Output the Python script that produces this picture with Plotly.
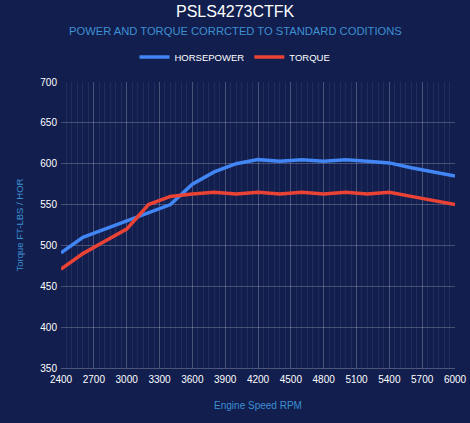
import plotly.graph_objects as go

rpm = [2400, 2600, 2800, 3000, 3200, 3400, 3600, 3800, 4000, 4200,
       4400, 4600, 4800, 5000, 5200, 5400, 5600, 5800, 6000]
horsepower = [491, 510, 520, 530, 540, 550, 575, 590, 600, 605,
              603, 605, 603, 605, 603, 601, 595, 590, 585]
torque = [471, 490, 505, 520, 550, 560, 563, 565, 563, 565,
          563, 565, 563, 565, 563, 565, 560, 555, 550]

x_ticks = list(range(2400, 6001, 300))
y_ticks = list(range(350, 701, 50))

title = "PSLS4273CTFK"
subtitle = "POWER AND TORQUE CORRCTED TO STANDARD CODITIONS"

bg = "#111e4e"
accent = "#3f8fd2"
font_main = "Liberation Sans, Arial, sans-serif"

W, H = 470, 423
L, R, T, B = 61, 15, 82, 55
# centre of the whole figure, in plot-area (paper) units
mid = (W / 2 - L) / (W - L - R)

fig = go.Figure()
fig.add_trace(go.Scatter(x=rpm, y=horsepower, mode="lines", name="HORSEPOWER",
                         line=dict(color="#4285f4", width=3.5)))
fig.add_trace(go.Scatter(x=rpm, y=torque, mode="lines", name="TORQUE",
                         line=dict(color="#ea4335", width=3.5)))

fig.update_layout(
    width=W, height=H,
    paper_bgcolor=bg, plot_bgcolor=bg,
    margin=dict(l=L, r=R, t=T, b=B),
    font=dict(family=font_main, color="white", size=10),
    legend=dict(orientation="h", x=mid, xanchor="center", y=1.087, yanchor="middle",
                font=dict(size=9.5, color="white"), bgcolor="rgba(0,0,0,0)",
                itemwidth=30, tracegroupgap=0),
    showlegend=True,
)
fig.add_annotation(text=title, xref="paper", yref="paper", x=mid, y=1.245,
                   xanchor="center", yanchor="middle", showarrow=False,
                   font=dict(size=16, color="white"))
fig.add_annotation(text=subtitle, xref="paper", yref="paper", x=mid, y=1.178,
                   xanchor="center", yanchor="middle", showarrow=False,
                   font=dict(size=11.2, color=accent))

fig.update_xaxes(
    range=[2400, 6000], tickvals=x_ticks, ticktext=[str(v) for v in x_ticks],
    automargin=False,
    showgrid=True, gridcolor="rgba(255,255,255,0.18)", gridwidth=1,
    minor=dict(dtick=50, tick0=2400, showgrid=True, gridcolor="rgba(255,255,255,0.07)"),
    zeroline=False, showline=True, linecolor="rgba(255,255,255,0.25)",
    tickfont=dict(size=10, color="white"), ticklabelstandoff=2,
    title=dict(text="Engine Speed RPM", font=dict(size=10, color=accent), standoff=17),
)
fig.update_yaxes(
    range=[350, 700], tickvals=y_ticks, automargin=False,
    showgrid=True, gridcolor="rgba(255,255,255,0.22)", gridwidth=1,
    zeroline=False, showline=False,
    tickfont=dict(size=10, color="white"), ticklabelstandoff=3,
    title=dict(text="Torque FT-LBS / HOR", font=dict(size=9.5, color=accent), standoff=14),
)

fig.write_html("out.html", config={"displayModeBar": False},
               post_script="document.body.style.margin='0';"
                           "document.body.style.overflow='hidden';")
